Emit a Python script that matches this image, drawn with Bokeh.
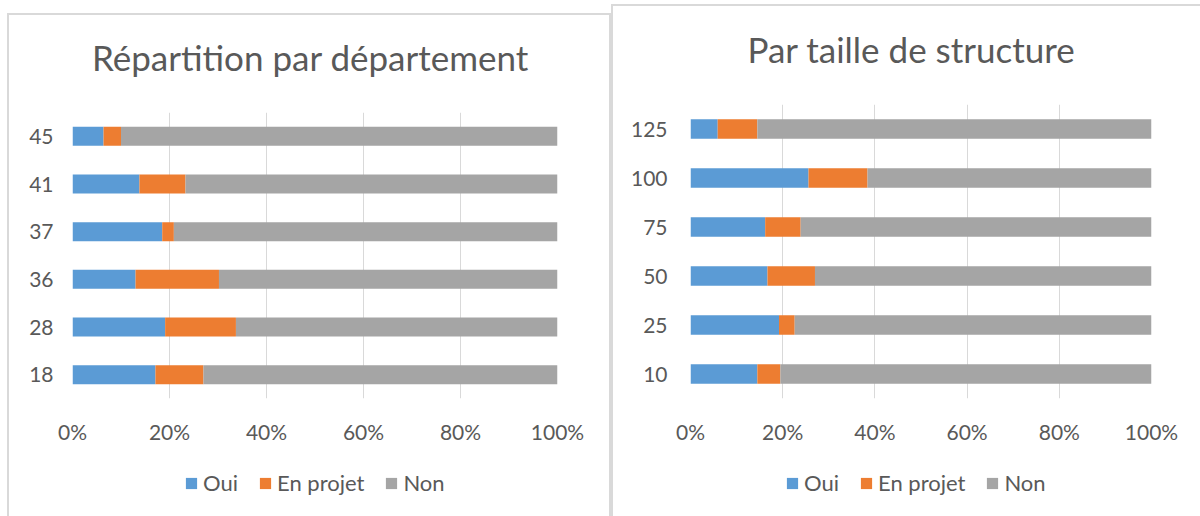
from bokeh.plotting import figure
from bokeh.layouts import row, column
from bokeh.models import (FixedTicker, NumeralTickFormatter, Range1d, FactorRange,
                          Legend, Label)
from bokeh.embed import file_html
from bokeh.resources import INLINE

# ---- data ----
series = ["Oui", "En projet", "Non"]
colors = ["#5B9BD5", "#ED7D31", "#A5A5A5"]

dept_title = "Répartition par département"
dept_cats = ["18", "28", "36", "37", "41", "45"]
dept_oui = [0.171, 0.191, 0.130, 0.185, 0.138, 0.064]
dept_projet = [0.099, 0.146, 0.172, 0.024, 0.095, 0.036]
dept_non = [round(1 - a - b, 3) for a, b in zip(dept_oui, dept_projet)]

size_title = "Par taille de structure"
size_cats = ["10", "25", "50", "75", "100", "125"]
size_oui = [0.145, 0.192, 0.167, 0.162, 0.256, 0.059]
size_projet = [0.050, 0.034, 0.103, 0.077, 0.128, 0.086]
size_non = [round(1 - a - b, 3) for a, b in zip(size_oui, size_projet)]

x_ticks = [0, 0.2, 0.4, 0.6, 0.8, 1.0]

TEXT = "#595959"
FONT = "Lato"
BORDER = "#D9D9D9"


def bare_figure(width, height, frame_l, frame_w):
    p = figure(width=width, height=height, x_range=Range1d(0, 1), y_range=Range1d(0, 1),
               output_backend="svg", toolbar_location=None, title_location=None,
               x_axis_location=None, y_axis_location=None,
               min_border_left=frame_l, min_border_right=width - frame_l - frame_w,
               min_border_top=0, min_border_bottom=0)
    p.grid.visible = False
    p.outline_line_color = None
    p.background_fill_color = "white"
    p.border_fill_color = "white"
    return p


def make_chart(title, cats, oui, projet, non, width, title_h, title_x, title_y,
               main_h, frame_l, frame_w, frame_t, frame_h, ylab_standoff,
               legend_h, legend_loc, margin, border_css):
    # title band
    pt = bare_figure(width, title_h, frame_l, frame_w)
    pt.add_layout(Label(x=title_x, y=title_y, x_units="screen", y_units="screen",
                        text=title, text_align="center", text_baseline="middle",
                        text_font=FONT, text_font_size="35px", text_color=TEXT))

    # main chart
    p = figure(width=width, height=main_h, y_range=FactorRange(*cats),
               x_range=Range1d(0, 1), output_backend="svg", toolbar_location=None,
               title_location=None,
               min_border_left=frame_l, min_border_right=width - frame_l - frame_w,
               min_border_top=frame_t, min_border_bottom=main_h - frame_t - frame_h)
    data = {"cat": cats, "Oui": oui, "En projet": projet, "Non": non}
    p.hbar_stack(series, y="cat", height=0.4, color=colors, source=data, line_width=0)
    p.outline_line_color = None
    p.background_fill_color = "white"
    p.border_fill_color = "white"
    p.xaxis.ticker = FixedTicker(ticks=x_ticks)
    p.xaxis.formatter = NumeralTickFormatter(format="0%")
    for ax in (p.xaxis, p.yaxis):
        ax.axis_line_color = None
        ax.major_tick_line_color = None
        ax.minor_tick_line_color = None
        ax.major_label_text_font = FONT
        ax.major_label_text_font_size = "21px"
        ax.major_label_text_color = TEXT
    p.xaxis.major_label_standoff = 14
    p.yaxis.major_label_standoff = ylab_standoff
    p.xgrid.ticker = FixedTicker(ticks=x_ticks)
    p.xgrid.grid_line_color = "#D9D9D9"
    p.ygrid.grid_line_color = None

    # legend band (zero-width swatch bars, only used for the legend keys)
    pl = bare_figure(width, legend_h, frame_l, frame_w)
    rs = [pl.hbar(y=[0], left=[0], right=[0], height=0.4, color=c, line_width=0)
          for c in colors]
    legend = Legend(items=[(s, [r]) for s, r in zip(series, rs)],
                    orientation="horizontal", location=legend_loc,
                    border_line_color=None, background_fill_alpha=0,
                    label_text_font=FONT, label_text_font_size="22px",
                    label_text_color=TEXT, glyph_width=14, glyph_height=14,
                    spacing=20, label_standoff=5, margin=0, padding=0)
    pl.add_layout(legend, "center")

    return column(pt, p, pl, spacing=0, margin=margin, styles=border_css)


left = make_chart(dept_title, dept_cats, dept_oui, dept_projet, dept_non,
                  width=600, title_h=80, title_x=238, title_y=39,
                  main_h=365, frame_l=63, frame_w=485, frame_t=17, frame_h=286,
                  ylab_standoff=13, legend_h=56, legend_loc=(112, 20),
                  margin=(13, 0, 0, 7),
                  border_css={"border-top": f"2px solid {BORDER}",
                              "border-left": f"2px solid {BORDER}",
                              "border-right": f"2px solid {BORDER}"})
right = make_chart(size_title, size_cats, size_oui, size_projet, size_non,
                   width=587, title_h=89, title_x=221, title_y=47,
                   main_h=365, frame_l=77, frame_w=461, frame_t=9, frame_h=294,
                   ylab_standoff=17, legend_h=56, legend_loc=(95, 20),
                   margin=(4, 0, 0, 0),
                   border_css={"border-top": f"2px solid {BORDER}",
                               "border-left": f"2px solid {BORDER}"})

layout = row(left, right, spacing=0)
open("out.html", "w").write(file_html(layout, INLINE))
